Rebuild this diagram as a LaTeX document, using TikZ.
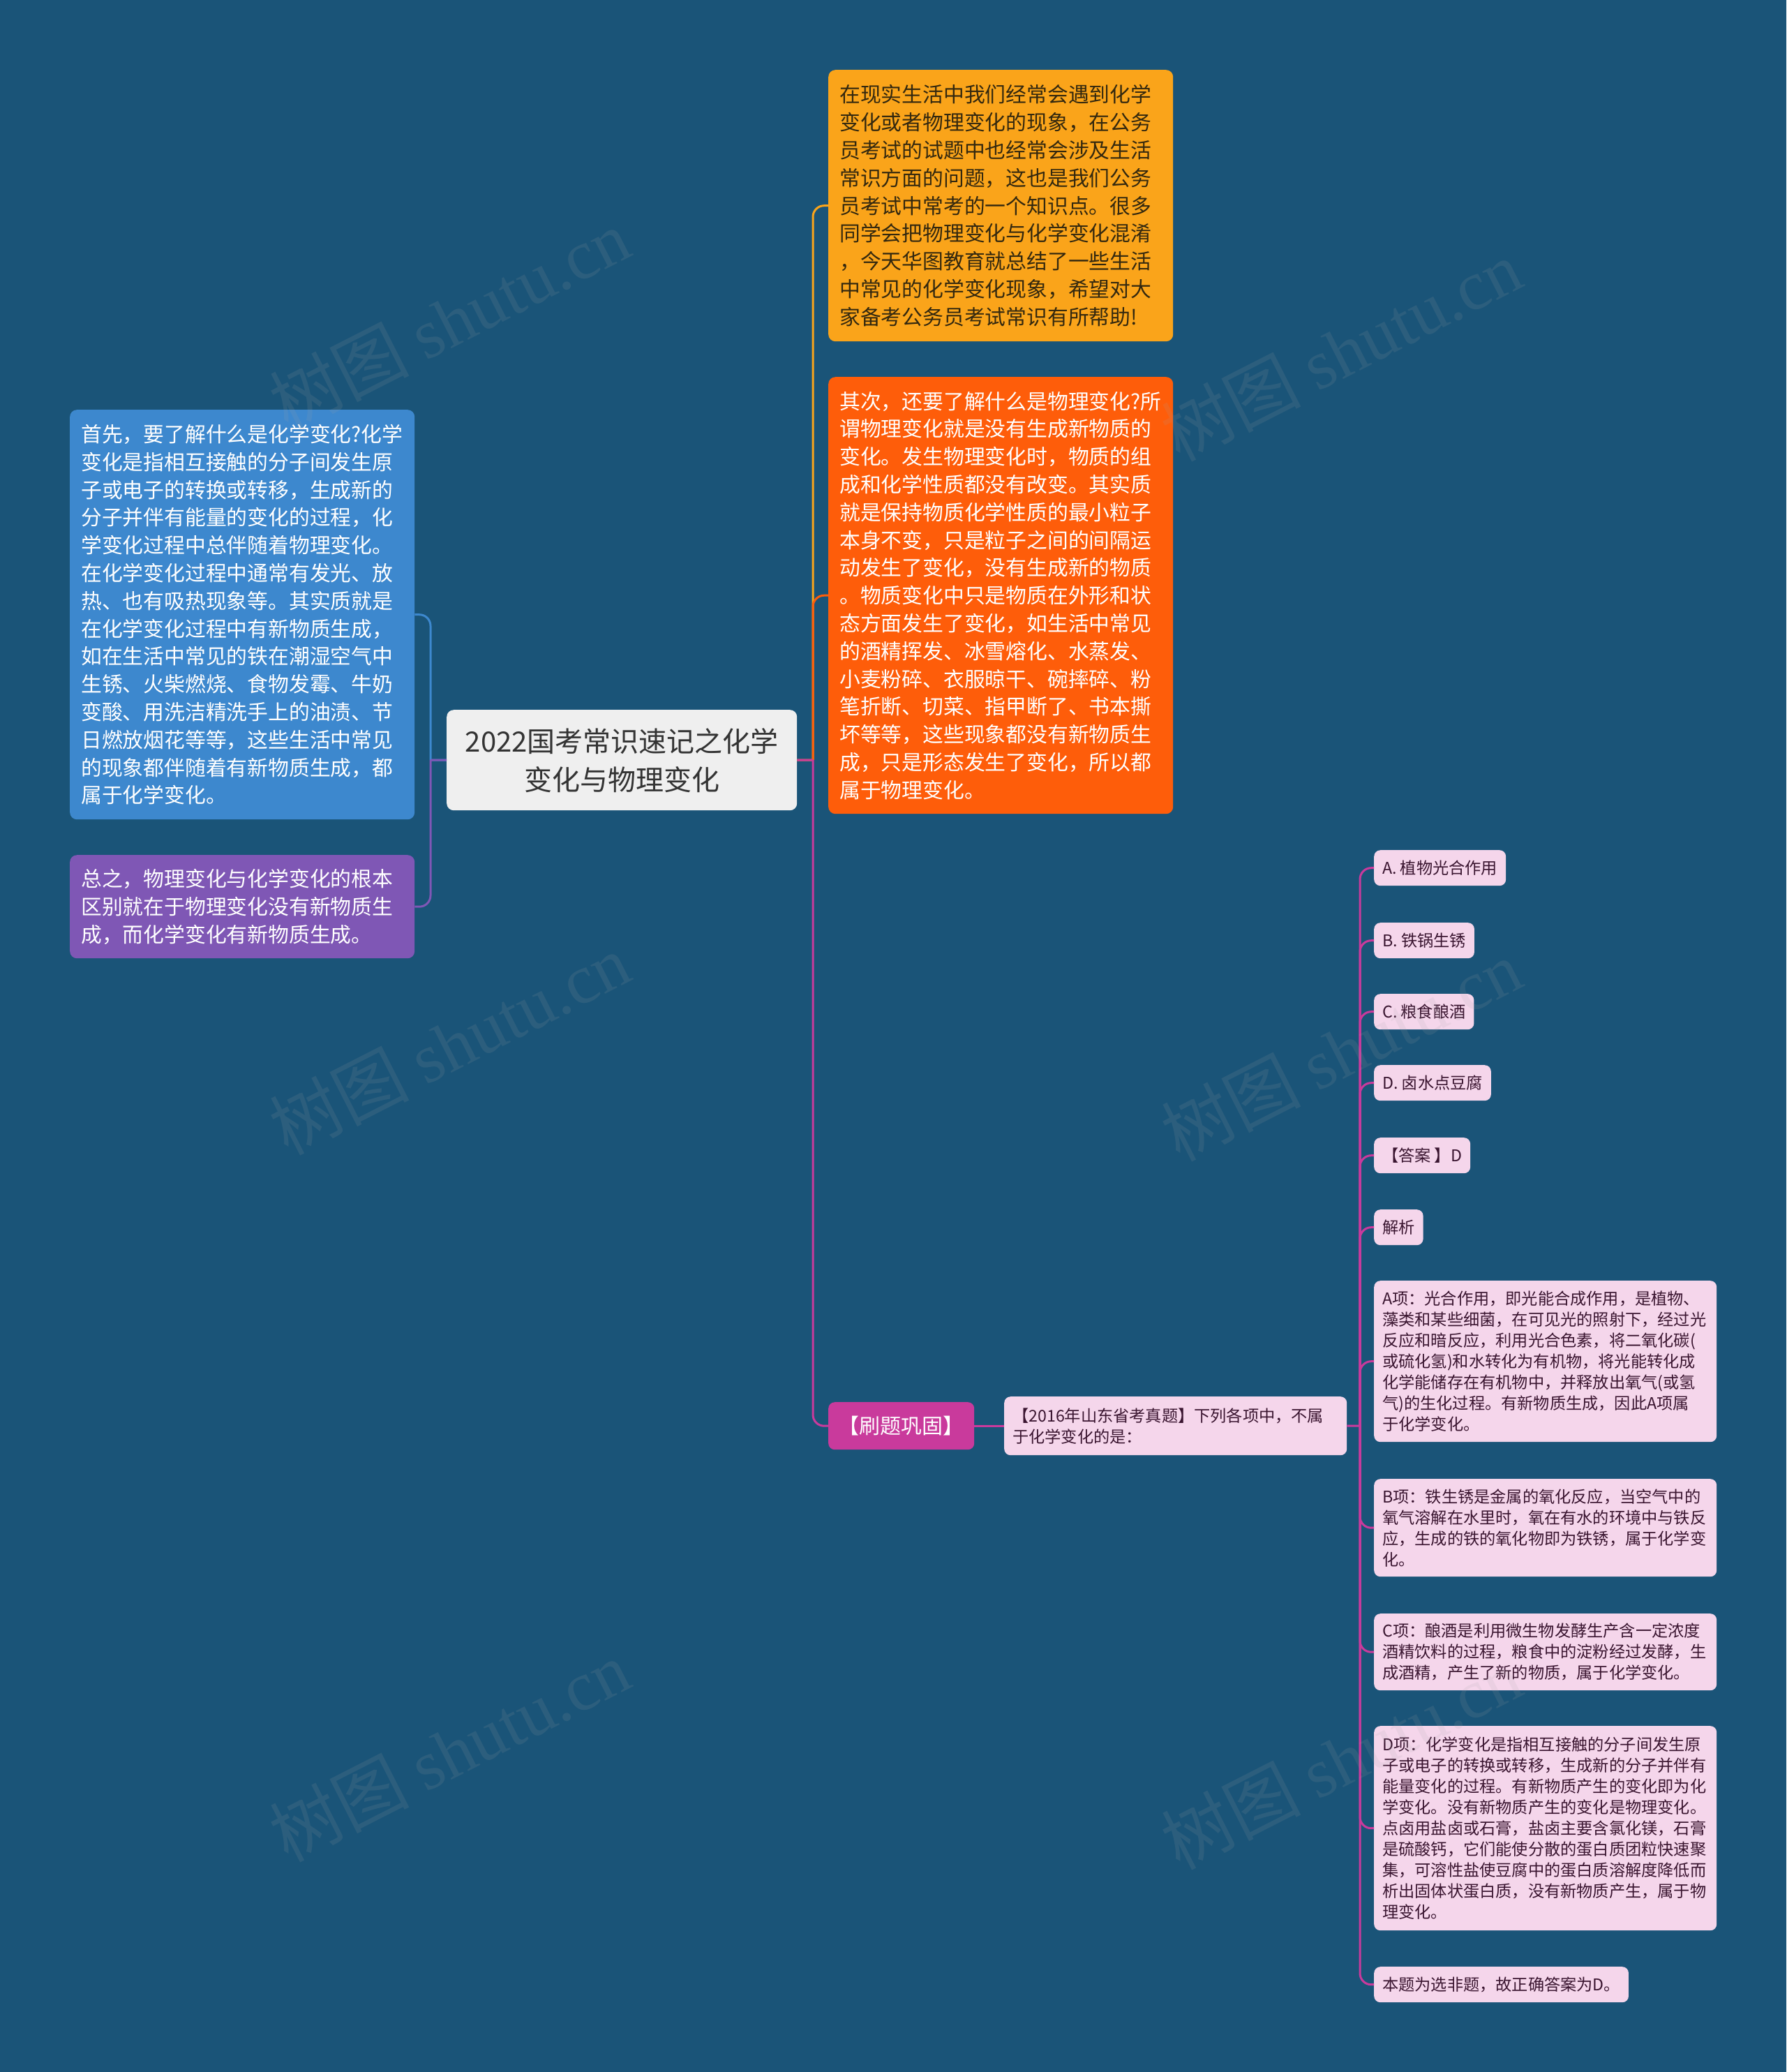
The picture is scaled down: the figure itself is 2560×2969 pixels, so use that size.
\documentclass[tikz,border=0pt]{standalone}
\usepackage{fontspec}
\setmainfont{Noto Sans CJK SC}
\newfontfamily\wmserif{Liberation Serif}
\definecolor{bgc}{HTML}{1A5478}
\definecolor{yelc}{HTML}{FAA41A}
\definecolor{orac}{HTML}{FE5D0A}
\definecolor{bluc}{HTML}{3D88CE}
\definecolor{purc}{HTML}{7F57B5}
\definecolor{magc}{HTML}{C93A9C}
\definecolor{pinkc}{HTML}{F5D6EB}
\definecolor{cenc}{HTML}{EFEFEF}
\definecolor{darkt}{HTML}{33280F}
\definecolor{pinkt}{HTML}{3A1530}
\begin{document}
\begin{tikzpicture}[x=1pt,y=-1pt,
  bigbox/.style={rectangle, rounded corners=10pt, inner xsep=16pt, inner ysep=0pt,
    align=left, text width=462pt, anchor=north west,
    font=\fontsize{29.8}{39.8}\selectfont},
  smallbox/.style={rectangle, rounded corners=9pt, fill=pinkc, text=pinkt,
    inner xsep=12pt, inner ysep=0pt, anchor=north west, align=left,
    font=\fontsize{23.2}{30}\selectfont},
  widebox/.style={smallbox, text width=467pt},
  ln/.style={line width=3pt},
  wm/.style={rotate=27, text=gray!70, opacity=0.13,
    font=\fontsize{100}{100}\selectfont}
]
\fill[bgc] (0,0) rectangle (2560,2969);
\useasboundingbox (0,0) rectangle (2560,2969);

% central
\node[rectangle, rounded corners=10pt, fill=cenc, text=black!80, align=center,
  minimum width=502pt, minimum height=144pt, anchor=north west, inner sep=0pt,
  font=\fontsize{40}{55}\selectfont] (c) at (640,1017)
  {2022国考常识速记之化学\\变化与物理变化};

% right side
\node[bigbox, fill=yelc, text=darkt, minimum height=389pt] (y1) at (1187,100)
{在现实生活中我们经常会遇到化学\\
变化或者物理变化的现象，在公务\\
员考试的试题中也经常会涉及生活\\
常识方面的问题，这也是我们公务\\
员考试中常考的一个知识点。很多\\
同学会把物理变化与化学变化混淆\\
，今天华图教育就总结了一些生活\\
中常见的化学变化现象，希望对大\\
家备考公务员考试常识有所帮助!};

\node[bigbox, fill=orac, text=white, minimum height=626pt] (o1) at (1187,540)
{其次，还要了解什么是物理变化?所\\
谓物理变化就是没有生成新物质的\\
变化。发生物理变化时，物质的组\\
成和化学性质都没有改变。其实质\\
就是保持物质化学性质的最小粒子\\
本身不变，只是粒子之间的间隔运\\
动发生了变化，没有生成新的物质\\
。物质变化中只是物质在外形和状\\
态方面发生了变化，如生活中常见\\
的酒精挥发、冰雪熔化、水蒸发、\\
小麦粉碎、衣服晾干、碗摔碎、粉\\
笔折断、切菜、指甲断了、书本撕\\
坏等等，这些现象都没有新物质生\\
成，只是形态发生了变化，所以都\\
属于物理变化。};

% left side
\node[bigbox, fill=bluc, text=white, minimum height=587pt] (b1) at (100,587)
{首先，要了解什么是化学变化?化学\\
变化是指相互接触的分子间发生原\\
子或电子的转换或转移，生成新的\\
分子并伴有能量的变化的过程，化\\
学变化过程中总伴随着物理变化。\\
在化学变化过程中通常有发光、放\\
热、也有吸热现象等。其实质就是\\
在化学变化过程中有新物质生成，\\
如在生活中常见的铁在潮湿空气中\\
生锈、火柴燃烧、食物发霉、牛奶\\
变酸、用洗洁精洗手上的油渍、节\\
日燃放烟花等等，这些生活中常见\\
的现象都伴随着有新物质生成，都\\
属于化学变化。};

\node[bigbox, fill=purc, text=white, minimum height=148pt] (p1) at (100,1225)
{总之，物理变化与化学变化的根本\\
区别就在于物理变化没有新物质生\\
成，而化学变化有新物质生成。};

% practice branch
\node[rectangle, rounded corners=9pt, fill=magc, text=white, inner sep=0pt,
  minimum width=209pt, minimum height=68pt, anchor=north west,
  font=\fontsize{30}{36}\selectfont] (s) at (1187,2009) {【刷题巩固】};

\node[widebox, minimum height=84pt] (q) at (1439,2001)
{【2016年山东省考真题】下列各项中，不属\\
于化学变化的是：};

\node[smallbox, minimum height=51pt] (a1) at (1969,1218) {A. 植物光合作用};
\node[smallbox, minimum height=51pt] (a2) at (1969,1322) {B. 铁锅生锈};
\node[smallbox, minimum height=51pt] (a3) at (1969,1424) {C. 粮食酿酒};
\node[smallbox, minimum height=51pt] (a4) at (1969,1526) {D. 卤水点豆腐};
\node[smallbox, minimum height=51pt] (a5) at (1969,1630) {【答案 】D};
\node[smallbox, minimum height=51pt] (a6) at (1969,1733) {解析};

\node[widebox, minimum height=231pt] (e1) at (1969,1835)
{A项：光合作用，即光能合成作用，是植物、\\
藻类和某些细菌，在可见光的照射下，经过光\\
反应和暗反应，利用光合色素，将二氧化碳(\\
或硫化氢)和水转化为有机物，将光能转化成\\
化学能储存在有机物中，并释放出氧气(或氢\\
气)的生化过程。有新物质生成，因此A项属\\
于化学变化。};

\node[widebox, minimum height=140pt] (e2) at (1969,2119)
{B项：铁生锈是金属的氧化反应，当空气中的\\
氧气溶解在水里时，氧在有水的环境中与铁反\\
应，生成的铁的氧化物即为铁锈，属于化学变\\
化。};

\node[widebox, minimum height=110pt] (e3) at (1969,2312)
{C项：酿酒是利用微生物发酵生产含一定浓度\\
酒精饮料的过程，粮食中的淀粉经过发酵，生\\
成酒精，产生了新的物质，属于化学变化。};

\node[widebox, minimum height=293pt] (e4) at (1969,2473)
{D项：化学变化是指相互接触的分子间发生原\\
子或电子的转换或转移，生成新的分子并伴有\\
能量变化的过程。有新物质产生的变化即为化\\
学变化。没有新物质产生的变化是物理变化。\\
点卤用盐卤或石膏，盐卤主要含氯化镁，石膏\\
是硫酸钙，它们能使分散的蛋白质团粒快速聚\\
集，可溶性盐使豆腐中的蛋白质溶解度降低而\\
析出固体状蛋白质，没有新物质产生，属于物\\
理变化。};

\node[smallbox, minimum height=51pt] (e5) at (1969,2818) {本题为选非题，故正确答案为D。};

% connectors
\coordinate (rt) at (1165,1089);
\coordinate (lt) at (617,1089);
\coordinate (pt) at (1949,2043);

\draw[ln, yelc] (c.east) -- (rt);
\draw[ln, yelc, rounded corners=16pt] (rt) |- (y1.west);
\draw[ln, orac, rounded corners=16pt] (rt) |- (o1.west);
\draw[ln, magc] (c.east) -- (rt);
\draw[ln, magc, rounded corners=16pt] (rt) |- (s.west);

\draw[ln, bluc] (c.west) -- (lt);
\draw[ln, bluc, rounded corners=16pt] (lt) |- (b1.east);
\draw[ln, purc, rounded corners=16pt] (lt) |- (p1.east);
\draw[ln, purc] (c.west) -- (lt);

\draw[ln, magc] (s.east) -- (q.west);
\draw[ln, magc] (q.east) -- (pt);
\foreach \n in {a1,a2,a3,a4,a5,a6,e1,e2,e3,e4,e5}
  \draw[ln, magc, rounded corners=16pt] (pt) |- (\n.west);

% watermarks
\node[wm] (w1) at (644,458) {树图 {\wmserif shutu.cn}};
\node[wm] (w2) at (1922,502) {树图 {\wmserif shutu.cn}};
\node[wm] (w3) at (644,1496) {树图 {\wmserif shutu.cn}};
\node[wm] (w4) at (1922,1505) {树图 {\wmserif shutu.cn}};
\node[wm] (w5) at (644,2509) {树图 {\wmserif shutu.cn}};
\node[wm] (w6) at (1922,2520) {树图 {\wmserif shutu.cn}};
\end{tikzpicture}
\end{document}
